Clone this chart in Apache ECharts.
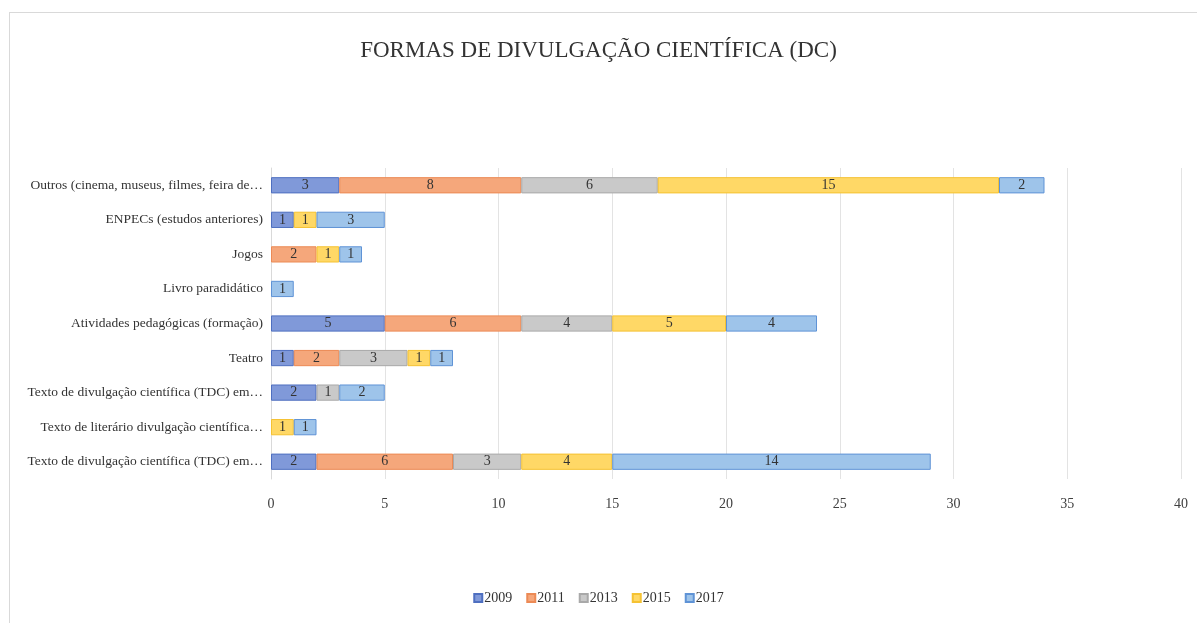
<!DOCTYPE html>
<html>
<head>
<meta charset="utf-8">
<script src="https://cdn.jsdelivr.net/npm/echarts@6/dist/echarts.min.js"></script>
<style>
    html, body { margin: 0; padding: 0; background: #fff; }
    #frame {
        position: absolute; left: 9px; top: 12px; right: -2px; bottom: -2px;
        border-top: 1px solid #d9d9d9; border-left: 1px solid #d9d9d9;
    }
    #myChart { position: absolute; left: 0; top: 0; width: 1197px; height: 623px; }
</style>
</head>
<body>
<div id="frame"></div>
<div id="myChart"></div>
<script>
    // categorias, de baixo para cima
    var categories = [
        'Texto de divulgação científica (TDC) em…',
        'Texto de literário divulgação científica…',
        'Texto de divulgação científica (TDC) em…',
        'Teatro',
        'Atividades pedagógicas (formação)',
        'Livro paradidático',
        'Jogos',
        'ENPECs (estudos anteriores)',
        'Outros (cinema, museus, filmes, feira de…'
    ];
    var years = ['2009', '2011', '2013', '2015', '2017'];
    var v2009 = [2, null, 2, 1, 5, null, null, 1, 3];
    var v2011 = [6, null, null, 2, 6, null, 2, null, 8];
    var v2013 = [3, null, 1, 3, 4, null, null, null, 6];
    var v2015 = [4, 1, null, 1, 5, null, 1, 1, 15];
    var v2017 = [14, 1, 2, 1, 4, 1, 1, 3, 2];
    var xTicks = [0, 5, 10, 15, 20, 25, 30, 35, 40];

    var fills = ['#8099d9', '#f5a77b', '#c9c9c9', '#ffd866', '#9ec4ea'];
    var edges = ['#4e6fc0', '#ec8a55', '#a9a9a9', '#f5c232', '#5f93d6'];
    var values = [v2009, v2011, v2013, v2015, v2017];

    var font = '"Liberation Serif", "DejaVu Serif", serif';

    var myChart = echarts.init(document.getElementById('myChart'));
    myChart.setOption({
        animation: false,
        textStyle: { fontFamily: font },
        title: {
            text: 'FORMAS DE DIVULGAÇÃO CIENTÍFICA (DC)',
            left: 'center',
            top: 34,
            textStyle: { fontFamily: font, fontSize: 23, fontWeight: 'normal', color: '#333' }
        },
        legend: {
            bottom: 13,
            left: 'center',
            itemWidth: 8,
            itemHeight: 8,
            itemGap: 14,
            icon: 'rect',
            textStyle: { fontFamily: font, fontSize: 14, color: '#333', padding: [0, 0, 0, -3] },
            data: years
        },
        grid: { left: 271, right: 16, top: 168, bottom: 144 },
        xAxis: {
            type: 'value',
            min: xTicks[0],
            max: xTicks[xTicks.length - 1],
            interval: 5,
            axisLine: { show: false },
            axisTick: { show: false },
            splitLine: { lineStyle: { color: '#e3e3e3' } },
            axisLabel: { fontFamily: font, fontSize: 14, color: '#404040', margin: 18 }
        },
        yAxis: {
            type: 'category',
            data: categories,
            axisLine: { show: true, lineStyle: { color: '#d9d9d9' } },
            axisTick: { show: false },
            axisLabel: { fontFamily: font, fontSize: 13.5, color: '#333', margin: 8 }
        },
        series: years.map(function (y, i) {
            return {
                name: y,
                type: 'bar',
                stack: 'total',
                barWidth: '47%',
                data: values[i],
                itemStyle: { color: fills[i], borderColor: edges[i], borderWidth: 1 },
                label: {
                    show: true,
                    position: 'inside',
                    fontFamily: font,
                    fontSize: 14,
                    color: '#333'
                }
            };
        })
    });
</script>
</body>
</html>
